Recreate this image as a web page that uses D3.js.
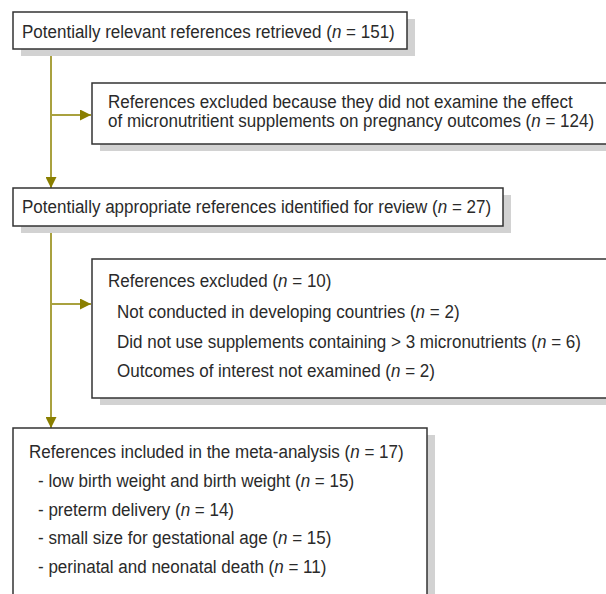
<!DOCTYPE html>
<html>
<head>
<meta charset="utf-8">
<script src="https://cdn.jsdelivr.net/npm/d3@7"></script>
<style>
  body { margin: 0; background: #fff; }
  svg { display: block; }
  text { font-family: "Liberation Sans Narrow", "Arial Narrow", "Liberation Sans", sans-serif; font-size: 18px; fill: #2a2a2a; }
</style>
</head>
<body>
<svg width="606" height="594"></svg>
<script>
// flow stages (main column)
var stages = [
  "Potentially relevant references retrieved",
  "Potentially appropriate references identified for review",
  "References included in the meta-analysis"
];
var stageN = [151, 27, 17];

// first exclusion
var exclusion1 = [
  "References excluded because they did not examine the effect",
  "of micronutritient supplements on pregnancy outcomes"
];
var exclusion1N = 124;

// second exclusion
var exclusion2Title = "References excluded";
var exclusion2N = 10;
var exclusion2Reasons = [
  "Not conducted in developing countries",
  "Did not use supplements containing > 3 micronutrients",
  "Outcomes of interest not examined"
];
var exclusion2ReasonN = [2, 6, 2];

// outcomes in the included references
var outcomes = [
  "low birth weight and birth weight",
  "preterm delivery",
  "small size for gestational age",
  "perinatal and neonatal death"
];
var outcomeN = [15, 14, 15, 11];

var svg = d3.select("svg");
var lineCol = "#a9a13f", headCol = "#8a7f00";
var squeeze = 0.945; // the original face is a condensed sans

svg.append("defs").append("marker")
  .attr("id", "arr")
  .attr("viewBox", "0 0 10 10")
  .attr("refX", 10).attr("refY", 5)
  .attr("markerWidth", 5.5).attr("markerHeight", 5.5)
  .attr("markerUnits", "strokeWidth")
  .attr("orient", "auto")
  .append("path")
  .attr("d", "M0,0L10,5L0,10Z")
  .attr("fill", headCol);

function box(x, y, w, h) {
  svg.append("rect")
    .attr("x", x + 8).attr("y", y + 7)
    .attr("width", w).attr("height", h)
    .attr("fill", "#d2d2d2");
  svg.append("rect")
    .attr("x", x).attr("y", y)
    .attr("width", w).attr("height", h)
    .attr("fill", "#fff")
    .attr("stroke", "#333")
    .attr("stroke-width", 1.5);
}

// label with italic n
function label(x, y, txt, n) {
  var t = svg.append("text")
    .attr("transform", "translate(" + x + "," + y + ") scale(" + squeeze + ",1)");
  t.append("tspan").text(txt + (n != null ? " (" : ""));
  if (n != null) {
    t.append("tspan").attr("font-style", "italic").text("n");
    t.append("tspan").text(" = " + n + ")");
  }
  return t;
}

function arrow(x1, y1, x2, y2) {
  svg.append("line")
    .attr("x1", x1).attr("y1", y1)
    .attr("x2", x2).attr("y2", y2)
    .attr("stroke", lineCol)
    .attr("stroke-width", 2)
    .attr("marker-end", "url(#arr)");
}

var spineX = 51;

// connectors (drawn first so boxes sit on top)
svg.append("line")
  .attr("x1", spineX).attr("y1", 49).attr("x2", spineX).attr("y2", 178)
  .attr("stroke", lineCol).attr("stroke-width", 2);
arrow(spineX, 170, spineX, 188);
svg.append("line")
  .attr("x1", spineX).attr("y1", 226).attr("x2", spineX).attr("y2", 420)
  .attr("stroke", lineCol).attr("stroke-width", 2);
arrow(spineX, 410, spineX, 428);
arrow(spineX, 115, 91, 115);
arrow(spineX, 304, 91, 304);

// stage 1
box(13, 12, 394, 37);
label(22, 38, stages[0], stageN[0]);

// exclusion 1
box(92, 83, 530, 61);
label(108, 108, exclusion1[0]);
label(108, 127, exclusion1[1], exclusion1N);

// stage 2
box(13, 188, 490, 38);
label(22, 213, stages[1], stageN[1]);

// exclusion 2
box(92, 259, 530, 139);
label(108, 287, exclusion2Title, exclusion2N);
exclusion2Reasons.forEach(function(r, i) {
  label(117, 318 + i * 29.5, r, exclusion2ReasonN[i]);
});

// stage 3
box(13, 428, 414, 200);
label(29, 458, stages[2], stageN[2]);
outcomes.forEach(function(o, i) {
  label(38, 487 + i * 28.5, "- " + o, outcomeN[i]);
});
</script>
</body>
</html>
